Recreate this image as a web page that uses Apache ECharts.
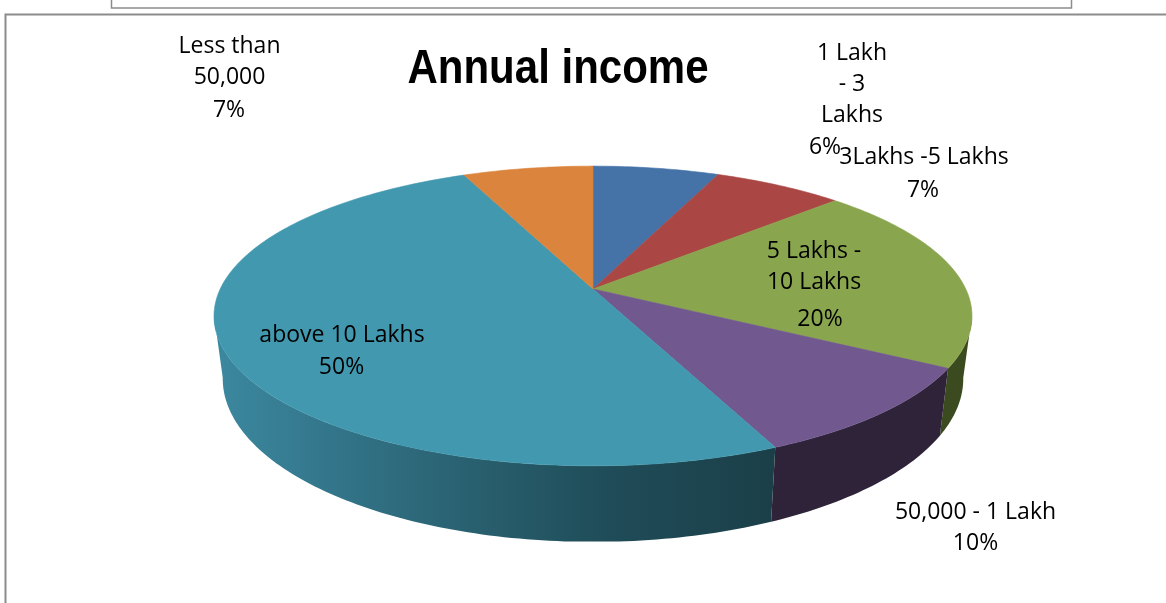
<!DOCTYPE html>
<html><head><meta charset="utf-8">
<style>html,body{margin:0;padding:0;background:#fff}#c{width:1166px;height:603px}</style>
<script src="https://cdn.jsdelivr.net/npm/echarts@6/dist/echarts.min.js"></script>
</head><body><div id="c"></div>
<script>
// Data, clockwise from 12 o'clock
const categories = ['1 Lakh\n- 3\nLakhs', '3Lakhs -5 Lakhs', '5 Lakhs -\n10 Lakhs', '50,000 - 1 Lakh', 'above 10 Lakhs', 'Less than\n50,000'];
const shares = [6.4, 6.6, 20.3, 10.0, 50.1, 6.6];
const topColors = ['#4572A7', '#AA4643', '#89A54E', '#71588F', '#4198AF', '#DB843D'];
// Label placement, kept apart from the data
const nameAnchors = [[852,84.5],[924,157],[814,266.5],[975.5,512],[342,335],[229.5,62]];
const pctAnchors = [[825,147],[923,190],[820,319],[975.5,543],[341.5,367],[229,110]];

// Projection of the tilted disc
const apex = [593, 289], HALF_W = 372.8, HALF_H = 145, PERSP = 0.18;
const project = (deg) => {
  const t = deg * Math.PI / 180, d = 1 + PERSP * Math.cos(t);
  return [apex[0] + HALF_W * Math.sin(t) / d, apex[1] - HALF_H * Math.cos(t) / d];
};
const projectLow = (deg) => {
  const p = project(deg);
  return [593 + 0.977 * (p[0] - 593), Math.min(541.5, 34.6 + 1.089 * p[1])];
};
const total = shares.reduce((a, b) => a + b, 0);
const starts = []; shares.reduce((a, v, i) => (starts[i] = a, a + v), 0);
const arc = (f, a, b) => { const r = [], n = Math.max(2, Math.ceil(Math.abs(b - a))); for (let i = 0; i <= n; i++) r.push(f(a + (b - a) * i / n)); return r; };

const wallFill = [null, null, '#3b4a1f', '#2e2338',
  { type:'linear', x:223, y:0, x2:775, y2:0, global:true, colorStops:[
    {offset:0,color:'#3b879e'},{offset:0.2,color:'#33758a'},{offset:0.45,color:'#29606f'},{offset:0.7,color:'#1f4c58'},{offset:1,color:'#1b3f49'}]}, null];

const data = shares.map((v, i) => ({ value: [v, starts[i], i] }));
const labelStyle = { fill:'#000', font:'23px "Open Sans"', lineHeight:31, align:'center', verticalAlign:'middle' };

const option = {
  animation: false,
  graphic: [
    { type:'polyline', silent:true, shape:{points:[[111.5,0],[111.5,8],[1071.5,8],[1071.5,0]]}, style:{stroke:'#8c8c8c',lineWidth:1.5,fill:null} },
    { type:'polyline', silent:true, shape:{points:[[5.5,603],[5.5,14.5],[1166,14.5]]}, style:{stroke:'#8c8c8c',lineWidth:2,fill:null} },
    { type:'text', silent:true, x:558, y:70, scaleX:0.875, z:10,
      style:{ text:'Annual income', font:'bold 48px "Liberation Sans"', fill:'#000', align:'center', verticalAlign:'middle' } }
  ],
  series: [
    { type:'custom', coordinateSystem:'none', silent:true, clip:false, data,
      renderItem(params, api) {
        const i = api.value(2), a = api.value(1) / total * 360, b = a + api.value(0) / total * 360;
        if (!wallFill[i]) return;
        const from = Math.max(a, 100), to = Math.min(b, 260);
        const pts = arc(project, from, to).concat(arc(projectLow, to, from));
        return { type:'polygon', shape:{points:pts}, style:{fill:wallFill[i]} };
      } },
    { type:'custom', coordinateSystem:'none', silent:true, clip:false, data,
      renderItem(params, api) {
        const i = api.value(2), a = api.value(1) / total * 360, b = a + api.value(0) / total * 360;
        return { type:'polygon', shape:{points:[apex].concat(arc(project, a, b))}, style:{fill:topColors[i], stroke:topColors[i], lineWidth:0.6} };
      } },
    { type:'custom', coordinateSystem:'none', silent:true, clip:false, z:5, data,
      renderItem(params, api) {
        const i = api.value(2);
        return { type:'group', children:[
          { type:'text', x:nameAnchors[i][0], y:nameAnchors[i][1], style:Object.assign({ text:categories[i] }, labelStyle) },
          { type:'text', x:pctAnchors[i][0], y:pctAnchors[i][1], style:Object.assign({ text:Math.round(api.value(0)) + '%' }, labelStyle) }
        ] };
      } }
  ]
};
const chart = echarts.init(document.getElementById('c'), null, { renderer:'canvas' });
chart.setOption(option);
</script></body></html>
